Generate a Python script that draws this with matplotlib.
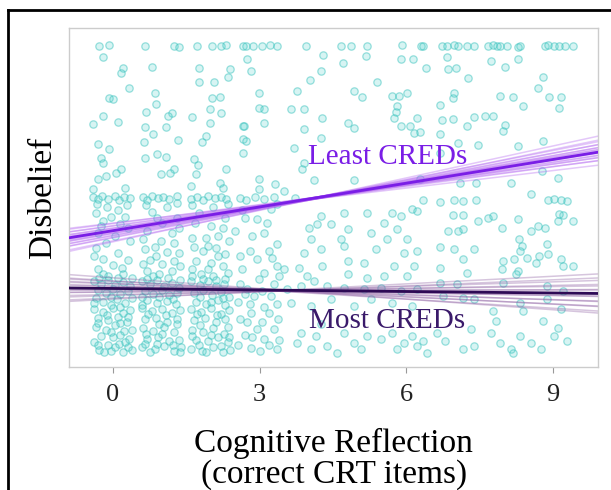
import numpy as np
import matplotlib.pyplot as plt
from matplotlib.lines import Line2D

plt.rcParams['font.family'] = ['Liberation Serif', 'DejaVu Serif']

# jittered participant points: (CRT score, disbelief) -- upper part of the cloud
upper_pts = np.array([
    (-0.29, 7.0), (-0.08, 7.01), (0.66, 6.99), (1.25, 7.0), (1.35, 6.98), (1.72, 7.0), (2.03, 7.0),
    (2.21, 6.99), (2.32, 7.01), (2.66, 7.0),
    (-0.2, 6.78), (0.2, 6.56), (0.16, 6.46), (0.8, 6.58), (1.76, 6.56), (2.4, 6.54), (2.36, 6.38),
    (1.76, 6.29), (2.07, 6.29), (0.33, 6.17), (0.86, 6.07), (-0.08, 5.96), (0.0, 5.95), (2.03, 5.97),
    (2.19, 5.98), (0.88, 5.85), (0.68, 5.69), (1.21, 5.67), (1.13, 5.62), (1.62, 5.6), (1.99, 5.75),
    (2.21, 5.67), (-0.2, 5.62), (-0.41, 5.46), (0.1, 5.5), (0.66, 5.4), (1.09, 5.4), (1.99, 5.48),
    (0.82, 5.26), (1.91, 5.22), (1.82, 5.1), (1.33, 5.14), (0.64, 5.1), (-0.31, 5.06), (-0.08, 4.96),
    (-0.25, 4.79), (-0.2, 4.69), (0.66, 4.79), (0.9, 4.87), (1.09, 4.81), (1.66, 4.77), (1.74, 4.65),
    (0.16, 4.57), (0.06, 4.49), (-0.14, 4.43), (-0.31, 4.37), (1.25, 4.57), (1.17, 4.49), (0.98, 4.47),
    (2.32, 4.57), (1.7, 4.47), (2.19, 4.29), (1.6, 4.23), (2.25, 4.2), (-0.41, 4.18), (0.25, 4.2),
    (2.66, 5.42), (2.66, 5.16), (2.66, 4.89),
    (2.73, 7.0), (2.87, 6.99), (3.05, 7.0), (3.22, 7.01), (3.36, 7.0), (3.95, 7.0), (4.67, 6.99),
    (4.88, 7.0), (5.2, 7.0), (5.92, 7.01), (6.31, 7.0),
    (2.75, 6.74), (2.83, 6.5), (4.3, 6.82), (5.18, 6.8), (4.71, 6.66), (5.9, 6.74), (6.13, 6.74),
    (4.26, 6.5), (4.04, 6.33), (3.77, 6.11), (2.99, 6.07), (5.41, 6.29), (4.94, 6.11), (5.1, 5.99),
    (5.7, 6.01), (5.86, 6.01), (6.02, 6.07), (2.99, 5.77), (3.09, 5.75), (3.65, 5.75), (3.91, 5.75),
    (5.82, 5.81), (5.8, 5.69), (5.76, 5.58), (6.23, 5.58), (2.68, 5.42), (3.09, 5.48), (4.28, 5.58),
    (4.8, 5.48), (4.94, 5.38), (5.9, 5.42), (6.07, 5.42), (6.17, 5.28), (3.91, 5.36), (4.26, 5.18),
    (2.73, 5.12), (3.71, 4.98), (3.91, 4.69), (3.87, 4.57), (2.99, 4.37), (3.32, 4.27), (4.12, 4.35),
    (4.94, 4.35), (2.99, 4.18), (3.5, 4.14),
    (6.35, 7.0), (6.74, 6.99), (6.84, 7.0), (6.97, 7.01), (7.07, 7.0), (7.25, 6.99), (7.38, 7.0),
    (7.68, 7.0), (7.77, 7.01), (7.85, 6.99), (7.93, 7.0), (8.07, 7.0), (8.28, 6.98), (8.34, 7.0),
    (8.85, 7.0), (8.91, 7.01), (9.02, 6.99), (9.12, 7.0), (9.26, 7.0), (9.41, 6.99),
    (6.84, 6.78), (6.41, 6.56), (6.86, 6.54), (7.01, 6.56), (7.73, 6.7), (8.03, 6.58), (8.28, 6.74),
    (7.27, 6.36), (8.81, 6.38), (8.69, 6.17), (6.97, 6.07), (6.95, 5.97), (7.93, 6.01), (8.18, 5.99),
    (8.93, 5.99), (9.16, 5.99), (9.12, 5.77), (6.7, 5.83), (8.4, 5.81), (6.74, 5.54), (6.95, 5.56),
    (7.38, 5.6), (7.62, 5.62), (7.77, 5.62), (7.25, 5.42), (8.03, 5.44), (7.99, 5.32), (6.29, 5.3),
    (6.7, 5.26), (8.81, 5.12), (7.48, 5.04), (8.28, 5.02), (7.07, 5.08), (6.7, 4.89), (8.79, 4.53),
    (9.1, 4.39), (8.14, 4.29), (7.11, 4.29), (7.42, 4.29), (6.29, 4.37), (8.55, 4.08),
])

# lower part of the cloud, CRT 0-3 (dense)
lower_low_pts = np.array([
    (-0.4, 4.02), (-0.3, 3.98), (-0.22, 4.04), (-0.1, 3.97), (0.05, 4.03), (0.12, 3.96), (0.22, 4.01),
    (0.35, 3.99), (0.62, 4.02), (0.7, 3.95), (0.8, 4.04), (0.92, 3.99), (1.02, 4.02), (1.15, 3.97),
    (1.3, 4.03), (1.6, 3.98), (1.72, 4.02), (1.85, 3.96), (1.95, 4.04), (2.08, 3.99), (2.2, 4.02),
    (2.32, 3.97), (2.6, 4.0), (2.72, 3.96), (2.9, 4.02), (3.1, 3.98), (3.3, 4.01), (3.72, 3.99),
    (-0.35, 3.7), (-0.2, 3.55), (-0.05, 3.62), (0.15, 3.48), (0.3, 3.4), (-0.3, 3.3), (0.05, 3.25),
    (0.25, 3.62), (0.8, 3.72), (1.0, 3.5), (1.2, 3.3), (0.7, 3.35), (1.3, 3.6), (1.75, 3.7),
    (2.0, 3.45), (2.3, 3.6), (2.15, 3.25), (1.9, 3.2), (2.5, 3.35), (2.65, 3.75),
    (-0.35, 3.0), (-0.2, 2.8), (0.1, 2.9), (-0.3, 2.6), (0.2, 2.5), (0.0, 2.68), (-0.1, 2.45),
    (0.65, 2.98), (0.85, 3.02), (1.1, 2.92), (0.75, 2.78), (1.0, 2.7), (1.25, 2.75), (0.7, 2.55),
    (0.95, 2.5), (1.2, 2.55), (1.35, 2.9),
    (1.65, 3.02), (1.85, 2.95), (2.1, 3.0), (2.3, 2.88), (1.7, 2.75), (2.0, 2.72), (2.25, 2.65),
    (1.8, 2.5), (2.05, 2.45), (2.35, 2.52), (2.6, 2.85), (2.65, 2.6),
    (-0.38, 2.35), (-0.25, 2.3), (-0.1, 2.38), (0.05, 2.28), (0.2, 2.33), (0.35, 2.25), (-0.3, 2.18),
    (-0.15, 2.12), (0.0, 2.2), (0.15, 2.1), (0.3, 2.15), (-0.35, 2.02), (-0.2, 1.95), (0.08, 2.0),
    (0.25, 1.92), (-0.05, 1.88),
    (0.6, 2.36), (0.75, 2.3), (0.9, 2.38), (1.05, 2.25), (1.2, 2.32), (1.35, 2.22), (0.65, 2.15),
    (0.82, 2.1), (1.0, 2.18), (1.15, 2.08), (1.3, 2.12), (0.7, 1.98), (0.9, 1.92), (1.1, 1.96),
    (1.28, 1.9), (0.6, 1.88),
    (1.6, 2.35), (1.78, 2.28), (1.95, 2.36), (2.1, 2.25), (2.28, 2.3), (1.65, 2.12), (1.85, 2.18),
    (2.02, 2.08), (2.2, 2.14), (2.38, 2.05), (1.7, 1.95), (1.9, 1.9), (2.15, 1.98), (2.3, 1.88),
    (2.6, 2.3), (2.7, 2.1), (2.55, 1.95),
    (-0.38, 1.8), (-0.2, 1.75), (0.0, 1.82), (0.2, 1.72), (0.35, 1.78), (-0.3, 1.62), (-0.1, 1.58),
    (0.1, 1.65), (0.28, 1.55), (-0.35, 1.45), (-0.15, 1.4), (0.05, 1.48), (0.22, 1.38), (-0.25, 1.28),
    (0.0, 1.25), (0.15, 1.3), (0.32, 1.22), (-0.38, 1.15), (-0.1, 1.1), (0.12, 1.12), (0.3, 1.05),
    (-0.28, 1.0), (-0.05, 0.98), (0.2, 0.96), (0.38, 1.0),
    (0.6, 1.82), (0.8, 1.76), (1.0, 1.8), (1.2, 1.72), (1.38, 1.78), (0.65, 1.6), (0.88, 1.62),
    (1.1, 1.55), (1.3, 1.6), (0.62, 1.42), (0.82, 1.38), (1.05, 1.45), (1.25, 1.35), (0.7, 1.22),
    (0.92, 1.25), (1.15, 1.18), (1.35, 1.2), (0.6, 1.05), (0.85, 1.02), (1.05, 1.08), (1.25, 0.98),
    (0.75, 0.95), (1.4, 1.05),
    (1.6, 1.8), (1.8, 1.75), (2.0, 1.82), (2.2, 1.7), (2.38, 1.78), (1.65, 1.58), (1.88, 1.62),
    (2.1, 1.55), (2.3, 1.6), (1.62, 1.4), (1.85, 1.35), (2.05, 1.42), (2.28, 1.32), (1.7, 1.2),
    (1.95, 1.18), (2.15, 1.25), (2.35, 1.15), (1.6, 1.02), (1.82, 0.98), (2.05, 1.05), (2.25, 0.96),
    (2.4, 1.0), (2.6, 1.6), (2.7, 1.3), (2.55, 1.1),
    (-0.32, 3.88), (0.28, 3.85), (-0.12, 3.82), (0.1, 3.75), (-0.25, 3.45), (0.35, 3.15), (-0.15, 3.1),
    (0.3, 2.78), (-0.38, 2.85), (0.18, 2.62), (-0.2, 2.5), (0.38, 2.42), (-0.28, 2.42), (0.1, 2.42),
    (-0.05, 2.05), (0.38, 2.02), (-0.38, 1.92), (0.15, 1.85), (-0.12, 1.68), (0.3, 1.65), (-0.3, 1.52),
    (0.15, 1.52), (-0.05, 1.35), (0.38, 1.4), (-0.3, 1.1), (0.05, 1.05), (0.25, 1.15), (-0.18, 0.95),
    (0.68, 3.85), (1.1, 3.82), (1.3, 3.9), (0.9, 3.6), (1.35, 3.4), (0.62, 3.18), (0.98, 3.15),
    (1.25, 3.1), (0.88, 2.85), (1.38, 2.65), (0.62, 2.7), (1.12, 2.42), (0.82, 2.45), (0.7, 2.4),
    (1.38, 2.38), (0.95, 2.05), (1.22, 2.0), (0.6, 2.05), (0.72, 1.7), (1.08, 1.68), (1.3, 1.5),
    (0.95, 1.5), (0.68, 1.32), (1.0, 1.32), (1.22, 1.1), (0.9, 1.12), (1.38, 0.95), (0.65, 1.12),
    (1.62, 3.85), (2.05, 3.82), (2.35, 3.88), (1.68, 3.5), (2.25, 3.4), (1.62, 3.2), (2.38, 3.15),
    (1.95, 3.05), (2.15, 2.85), (1.62, 2.6), (1.95, 2.6), (2.3, 2.4), (1.62, 2.45), (1.85, 2.4),
    (2.1, 2.38), (1.78, 2.05), (2.25, 2.02), (2.0, 1.95), (1.72, 1.7), (2.12, 1.68), (2.35, 1.45),
    (1.78, 1.48), (1.62, 1.28), (2.0, 1.3), (2.2, 1.08), (1.75, 1.1), (2.38, 1.25), (1.9, 0.95),
    (2.7, 3.6), (3.15, 3.5), (3.35, 3.88), (2.8, 2.95), (3.4, 2.45), (2.75, 2.2), (3.3, 2.3),
    (3.05, 2.15), (2.8, 1.9), (3.35, 1.9), (3.1, 1.85), (2.75, 1.55), (3.05, 1.55), (3.38, 1.6),
    (2.85, 1.25), (3.2, 1.1), (3.0, 0.98), (3.4, 1.2),
])

# lower part of the cloud, CRT 3-9
lower_high_pts = np.array([
    (2.95, 3.58), (3.24, 3.78), (2.85, 3.25), (3.09, 3.31), (3.36, 3.09), (3.2, 2.95), (2.95, 2.79),
    (3.26, 2.81), (3.36, 2.66), (3.09, 2.52), (2.99, 2.4), (3.5, 2.6), (3.81, 2.62), (3.91, 2.91),
    (4.06, 3.19), (4.02, 3.41), (4.18, 3.49), (4.26, 2.99), (4.28, 2.66), (3.98, 2.46), (4.12, 2.36),
    (4.26, 3.64), (4.47, 3.49), (4.73, 3.7), (4.8, 3.39), (4.67, 3.19), (4.73, 3.05), (4.8, 2.76),
    (5.14, 2.72), (5.39, 2.99), (5.29, 3.31), (5.2, 3.7), (5.55, 3.51), (5.61, 3.19), (5.7, 3.7),
    (5.9, 3.64), (6.11, 3.78), (6.23, 3.74), (5.82, 3.39), (6.02, 3.19), (5.96, 2.91), (6.23, 2.95),
    (5.76, 2.66), (6.17, 2.66), (6.02, 2.46), (5.55, 2.46), (5.2, 2.42), (4.8, 2.5), (2.89, 2.07),
    (3.24, 2.07), (2.83, 1.73), (3.2, 1.73), (2.95, 1.41), (3.3, 1.41), (3.09, 1.22), (2.83, 1.04),
    (3.36, 1.02), (3.77, 1.14), (3.85, 1.34), (4.16, 1.28), (4.26, 1.51), (4.06, 1.02), (4.39, 1.08),
    (4.94, 1.14), (4.73, 1.34), (5.2, 1.28), (5.49, 1.22), (5.7, 1.34), (5.96, 1.14), (6.11, 1.28),
    (6.23, 1.08), (5.82, 1.02), (5.08, 1.02), (4.59, 0.94), (3.65, 1.93), (4.06, 1.87), (4.94, 1.87),
    (5.7, 1.93), (6.11, 1.87), (5.29, 2.01), (4.47, 2.01), (3.57, 2.2), (3.85, 2.26), (4.39, 2.26),
    (4.73, 2.22), (5.14, 2.2), (5.49, 2.22), (5.9, 2.16), (6.23, 2.2),
    (6.35, 3.96), (6.7, 3.92), (6.97, 3.96), (7.17, 3.94), (7.42, 3.96), (8.91, 3.96), (9.02, 3.98),
    (9.16, 3.96), (9.3, 3.94), (6.95, 3.66), (7.17, 3.66), (7.48, 3.54), (7.68, 3.6), (7.77, 3.64),
    (7.97, 3.41), (8.28, 3.58), (8.55, 3.35), (8.69, 3.45), (8.85, 3.41), (9.1, 3.54), (9.2, 3.66),
    (9.41, 3.54), (9.12, 3.68), (6.86, 3.35), (7.07, 3.35), (7.17, 3.39), (6.7, 3.03), (6.97, 2.99),
    (7.38, 2.99), (8.3, 3.19), (8.38, 3.05), (8.34, 2.95), (8.89, 3.09), (8.91, 2.89), (7.17, 2.79),
    (7.99, 2.76), (8.2, 2.79), (8.48, 2.81), (8.71, 2.85), (9.16, 2.79), (9.41, 2.66), (9.22, 2.66),
    (6.7, 2.62), (7.25, 2.52), (7.97, 2.6), (8.28, 2.56), (8.65, 2.72), (6.7, 2.32), (7.05, 2.3),
    (7.99, 2.32), (8.24, 2.5), (8.89, 2.26), (9.22, 2.16), (6.76, 2.07), (7.17, 2.03), (7.38, 2.01),
    (8.34, 1.93), (8.89, 2.01), (9.16, 1.81), (7.77, 1.77), (8.4, 1.77), (7.32, 1.41), (7.83, 1.57),
    (7.73, 1.34), (7.93, 1.14), (8.14, 1.02), (8.34, 1.28), (8.55, 1.14), (8.81, 1.57), (9.1, 1.43),
    (9.3, 1.18), (8.75, 1.02), (9.02, 1.28), (6.35, 1.18), (6.64, 1.34), (6.8, 1.18), (7.17, 1.02),
    (7.38, 1.08), (8.18, 0.94), (6.43, 0.94),
])

# fitted lines (intercept, slope) and bootstrap draws
least_fit = (3.35, 0.156)
least_boot_int = [3.50, 3.49, 3.44, 3.45, 3.40, 3.40, 3.36, 3.38, 3.34, 3.35,
                  3.31, 3.33, 3.29, 3.30, 3.25, 3.26, 3.21, 3.22, 3.15, 3.13]
least_boot_slope = [0.115, 0.125, 0.13, 0.135, 0.14, 0.145, 0.148, 0.152, 0.155, 0.158,
                    0.16, 0.163, 0.167, 0.17, 0.175, 0.18, 0.185, 0.19, 0.2, 0.21]
most_fit = (2.21, -0.01)
most_boot_int = [2.42, 2.36, 2.35, 2.31, 2.30, 2.26, 2.25, 2.21, 2.21, 2.18,
                 2.18, 2.14, 2.14, 2.09, 2.07, 2.02, 2.00]
most_boot_slope = [-0.07, -0.06, -0.05, -0.045, -0.035, -0.03, -0.02, -0.015, -0.01, -0.005,
                   0.0, 0.005, 0.012, 0.02, 0.03, 0.04, 0.05]

xticks = [0, 3, 6, 9]

fig = plt.figure(figsize=(6.11, 4.9), dpi=100)
ax = fig.add_axes([0.113, 0.251, 0.866, 0.692])

pts = np.vstack([upper_pts, lower_low_pts, lower_high_pts])
ax.scatter(pts[:, 0], pts[:, 1], s=28, facecolor=(0.30, 0.82, 0.80, 0.22),
           edgecolor=(0.22, 0.76, 0.74, 0.5), linewidth=0.9, zorder=1)

xs = np.array([-0.9, 9.93])
for b0, b1 in zip(least_boot_int, least_boot_slope):
    ax.plot(xs, b0 + b1 * xs, color='#b060f0', alpha=0.35, lw=1.1, zorder=2)
for b0, b1 in zip(most_boot_int, most_boot_slope):
    ax.plot(xs, b0 + b1 * xs, color='#8a5aa0', alpha=0.35, lw=1.1, zorder=2)
ax.plot(xs, least_fit[0] + least_fit[1] * xs, color='#7a1ee6', lw=2, zorder=3)
ax.plot(xs, most_fit[0] + most_fit[1] * xs, color='#2e0a55', lw=2, zorder=3)

ax.text(5.63, 4.81, 'Least CREDs', color='#7a1ee6', fontsize=21, ha='center', va='center', zorder=4)
ax.text(5.6, 1.57, 'Most CREDs', color='#3a1a6a', fontsize=21, ha='center', va='center', zorder=4)

ax.set_xlim(-0.9, 9.93)
ax.set_ylim(0.66, 7.35)
ax.set_xticks(xticks)
ax.set_xticklabels([str(t) for t in xticks])
ax.set_yticks([])
ax.tick_params(axis='x', length=4, color='#999999', labelsize=19, pad=8, labelcolor='#222222')
for sp in ax.spines.values():
    sp.set_color('#cccccc')
    sp.set_linewidth(1)

ax.set_xlabel('Cognitive Reflection\n(correct CRT items)', fontsize=24, linespacing=1.0, labelpad=16)
ax.set_ylabel('Disbelief', fontsize=24, labelpad=8)

# black frame on left and top
fig.add_artist(Line2D([0.013, 0.013], [0.0, 0.98], transform=fig.transFigure, color='black', lw=2))
fig.add_artist(Line2D([0.013, 1.0], [0.98, 0.98], transform=fig.transFigure, color='black', lw=2))

fig.savefig('out.png', dpi=100)
